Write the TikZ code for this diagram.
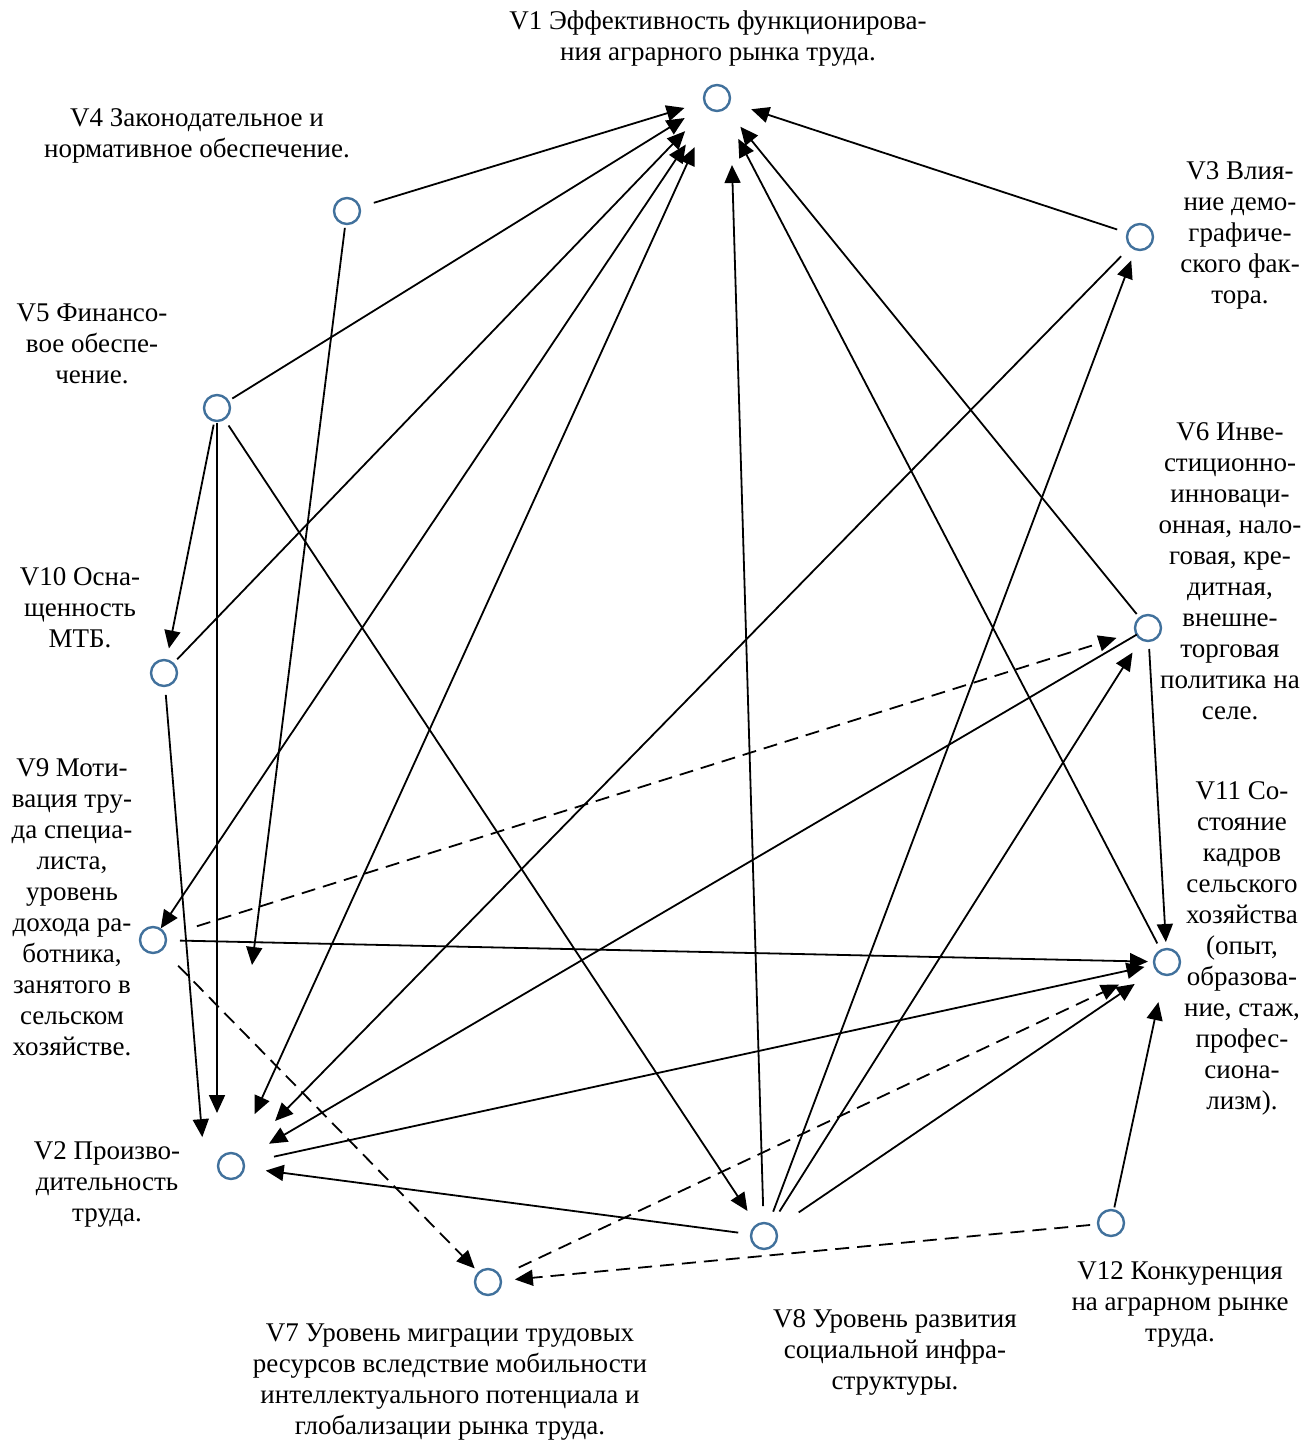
\documentclass[tikz,border=0pt]{standalone}
\usepackage{fontspec}
\setmainfont{Liberation Serif}
\usepackage{tikz}
\usetikzlibrary{arrows.meta}

\definecolor{vblue}{RGB}{65,113,156}

\begin{document}
\begin{tikzpicture}[x=0.5pt, y=-0.5pt, >={Triangle[length=9pt,width=8pt]}, line width=0.9pt,
        gaps/.style 2 args={shorten <=#1pt, shorten >=#2pt}]
        \tikzstyle{vertex} = [draw=vblue, line width=1.2pt, circle, minimum size=13pt, inner sep=0pt, outer sep=0pt]
        \tikzstyle{lab} = [align=center, inner sep=0pt, font=\fontsize{13.5}{15.5}\selectfont]
        \tikzstyle{link} = [->, black]
        \tikzstyle{dlink} = [->, black, dash pattern=on 7pt off 4pt]

        \useasboundingbox (0,0) rectangle (1316,1441);

        % --- вершины ---
        \node [vertex] (v1) at (717,98) {};
        \node [vertex] (v2) at (231,1166) {};
        \node [vertex] (v3) at (1140,237) {};
        \node [vertex] (v4) at (347,211) {};
        \node [vertex] (v5) at (217,408) {};
        \node [vertex] (v6) at (1148,628) {};
        \node [vertex] (v7) at (488,1282) {};
        \node [vertex] (v8) at (764,1236) {};
        \node [vertex] (v9) at (153,940) {};
        \node [vertex] (v10) at (164,673) {};
        \node [vertex] (v11) at (1167,962) {};
        \node [vertex] (v12) at (1111,1223) {};
        \coordinate (hole) at (252,965);
        \coordinate (v2left) at (205,1170);

        % --- подписи ---
        \node [lab] (lab1) at (718,39) {V1 Эффективность функционирова-\\ния аграрного рынка труда.};
        \node [lab] (lab4) at (197,136) {V4 Законодательное и\\нормативное обеспечение.};
        \node [lab] (lab3) at (1240,235) {V3 Влия-\\ние демо-\\графиче-\\ского фак-\\тора.};
        \node [lab] (lab5) at (92,344) {V5 Финансо-\\вое обеспе-\\чение.};
        \node [lab] (lab10) at (80,608) {V10 Осна-\\щенность\\МТБ.};
        \node [lab] (lab6) at (1230,571) {V6 Инве-\\стиционно-\\инноваци-\\онная, нало-\\говая, кре-\\дитная,\\внешне-\\торговая\\политика на\\селе.};
        \node [lab] (lab9) at (72,907) {V9 Моти-\\вация тру-\\да специа-\\листа,\\уровень\\дохода ра-\\ботника,\\занятого в\\сельском\\хозяйстве.};
        \node [lab] (lab11) at (1242,948) {V11 Со-\\стояние\\кадров\\сельского\\хозяйства\\(опыт,\\образова-\\ние, стаж,\\профес-\\сиона-\\лизм).};
        \node [lab] (lab2) at (107,1184) {V2 Произво-\\дительность\\труда.};
        \node [lab] (lab7) at (450,1382) {V7 Уровень миграции трудовых\\ресурсов вследствие мобильности\\интеллектуального потенциала и\\глобализации рынка труда.};
        \node [lab] (lab8) at (895,1352) {V8 Уровень развития\\социальной инфра-\\структуры.};
        \node [lab] (lab12) at (1180,1304) {V12 Конкуренция\\на аграрном рынке\\труда.};

        % --- связи к V1 ---
        \draw [link, gaps={7.5}{10.5}] (v4) -- (v1);
        \draw [link, gaps={2.5}{12.5}] (v5) -- (v1);
        \draw [link, gaps={3}{16.5}] (v10) -- (v1);
        \draw [link, <->, gaps={21.5}{0.5}] (v1) -- (v9);
        \draw [link, <->, gaps={20.5}{22}] (v1) -- (v2);
        \draw [link, gaps={8.5}{33.5}] (v8) -- (v1.east);
        \draw [link, gaps={4}{16.5}] (v11) -- (v1);
        \draw [link, gaps={2.5}{12}] (v6) -- (v1);
        \draw [link, gaps={5.5}{11.5}] (v3) -- (v1);

        % --- связи к V2 ---
        \draw [link, gaps={2}{0}] (v4) -- (hole);
        \draw [link, gaps={1}{26.5}] (v5) -- (v5 |- v2);
        \draw [link, gaps={4.5}{16.5}] (v10) -- (v2left);
        \draw [link, gaps={7}{25}] (v3) -- (v2);
        \draw [link, gaps={0}{15.5}] (v6) -- (v2);
        \draw [link, gaps={6.5}{11}] (v8) -- (v2);

        % --- прочие связи ---
        \draw [link, gaps={2}{6}] (v5) -- (v10);
        \draw [link, gaps={4}{8.5}] (v5) -- (v8);
        \draw [link, gaps={6.5}{6}] (v8) -- (v3);
        \draw [link, gaps={8}{8}] (v8) -- (v6);
        \draw [link, gaps={14.5}{13}] (v8) -- (v11);
        \draw [link, gaps={4}{3.5}] (v6) -- (v11);
        \draw [link, gaps={7}{3}] (v9) -- (v11);
        \draw [link, gaps={15.5}{5}] (v2) -- (v11);
        \draw [link, gaps={1.5}{14}] (v12) -- (v11);

        % --- пунктирные связи ---
        \draw [dlink, gaps={16.5}{10}] (v9) -- (v6);
        \draw [dlink, gaps={11.5}{3}] (v9) -- (v7);
        \draw [dlink, gaps={10.5}{20}] (v7) -- (v11);
        \draw [dlink, gaps={4}{7}] (v12) -- (v7);

    \end{tikzpicture}
\end{document}
